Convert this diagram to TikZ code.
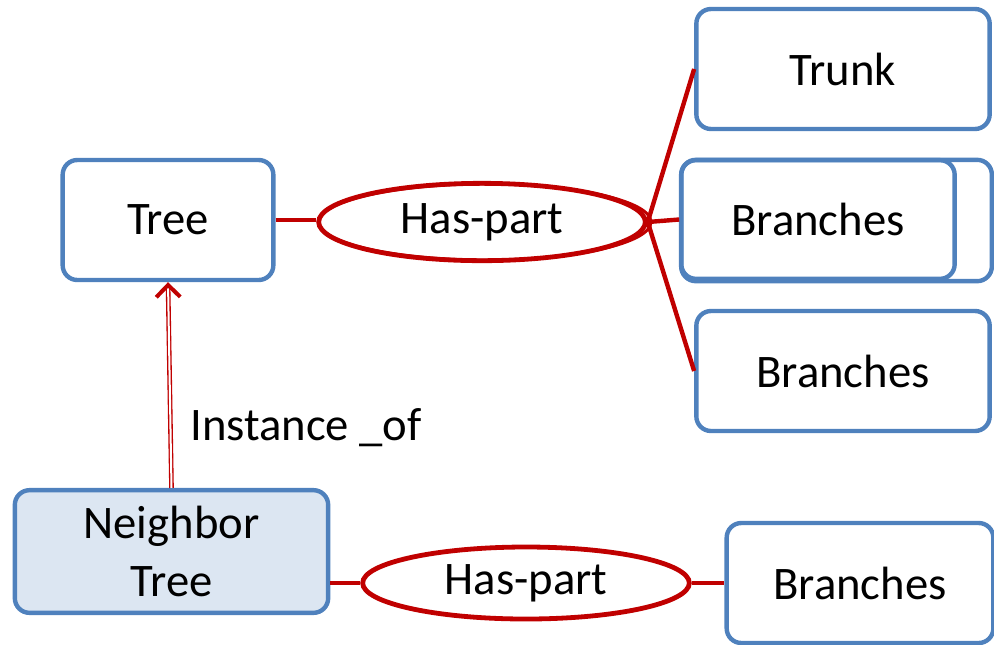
\documentclass[tikz,border=0pt]{standalone}
\usepackage{fontspec}
\setmainfont{Carlito}
\usetikzlibrary{shapes.geometric,arrows.meta}
\definecolor{boxblue}{HTML}{4F81BD}
\definecolor{relred}{HTML}{C00000}
\definecolor{boxfill}{HTML}{DCE6F2}
\tikzset{
  concept/.style={draw=boxblue, line width=3.3pt, rounded corners=11pt,
    minimum width=#1, minimum height=90pt, inner sep=0pt, align=center,
    font=\fontsize{35}{43}\selectfont},
  relation/.style={ellipse, draw=relred, line width=3.6pt, minimum width=245pt,
    minimum height=#1, inner sep=0pt, font=\fontsize{35}{43}\selectfont},
  rel/.style={draw=relred, line width=3.3pt},
  instance/.style={draw=relred, double=white, double distance=1.5pt, line width=1pt,
    -{Straight Barb[length=9pt,width=18pt,line width=3pt]}}
}
\begin{document}
\begin{tikzpicture}[x=0.75pt,y=-0.75pt]
\useasboundingbox (0,0) rectangle (994,644);
% upper row
\node[concept=158pt] (tree) at (168,220) {Tree};
\node[relation=58pt] (hp1) at (482,222) {Has-part};
\draw[relred, line width=2.2pt] (485,222) ellipse [x radius=124.5pt, y radius=28.5pt];
\node[concept=220pt] (trunk) at (843,69) {Trunk};
\node[concept=233pt, minimum height=91pt] (br1back) at (836.5,220.5) {};
\node[concept=205pt, minimum height=89pt] (br1) at (818,219.5) {Branches};
\node[concept=220pt] (br2) at (843,371) {Branches};
\draw[rel] (tree.east) -- (tree.east -| hp1.west);
\draw[rel] (hp1.east) -- (trunk.west);
\draw[rel] (hp1.east) -- (br1.west);
\draw[rel] (hp1.east) -- (br2.west);
% lower row
\node[concept=235pt, minimum height=92pt, fill=boxfill] (nt) at (171.5,551.5) {Neighbor\\Tree};
\node[relation=54pt] (hp2) at (526,583) {Has-part};
\node[concept=200pt] (br3) at (860,583) {Branches};
\draw[rel] (nt.east |- hp2.west) -- (hp2.west);
\draw[rel] (hp2.east) -- (br3.west);
% instance link
\draw[instance] (nt.north) -- (tree.south);
\node[anchor=west, font=\fontsize{35}{43}\selectfont, inner sep=0pt] (inst) at (190,428) {Instance \_of};
\end{tikzpicture}
\end{document}
